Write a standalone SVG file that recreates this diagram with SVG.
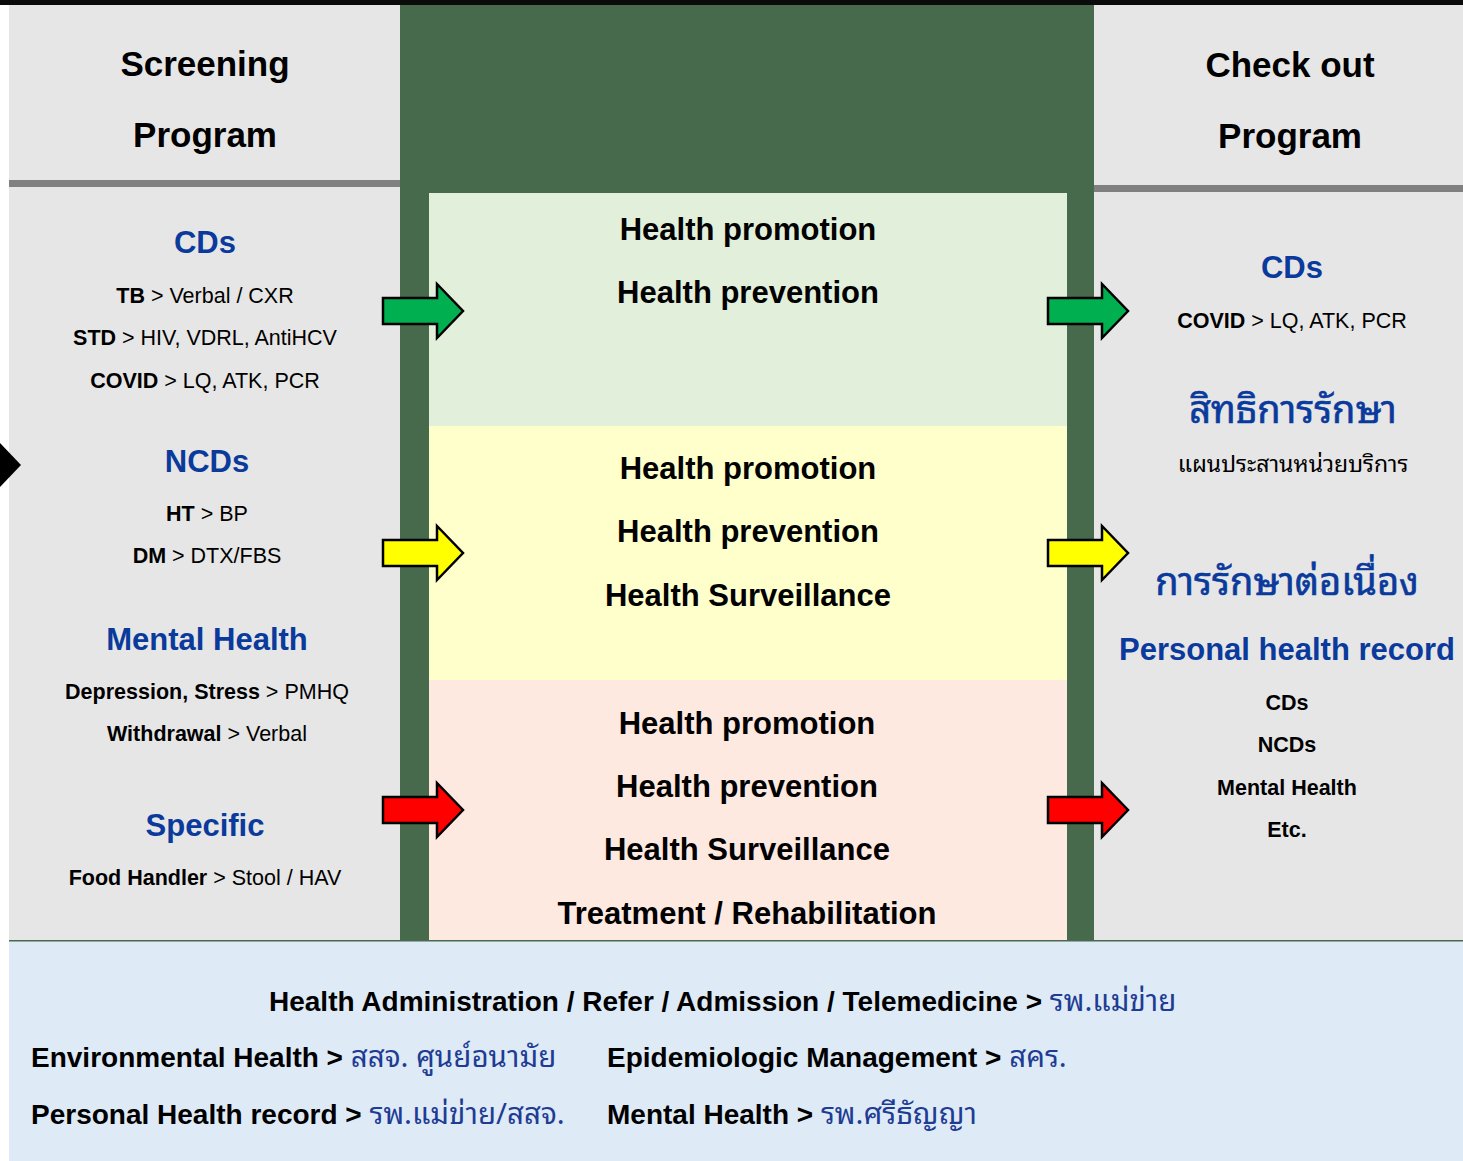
<svg xmlns="http://www.w3.org/2000/svg" width="1463" height="1161" viewBox="0 0 1463 1161">
<style>
text{font-family:"Liberation Sans",Arial,"Noto Sans Thai","Noto Sans",sans-serif;fill:#000}
.title{font-size:35px;font-weight:bold;text-anchor:middle}
.head{font-size:31px;font-weight:bold;fill:#0a3a9c;text-anchor:middle}
.small{font-size:21.5px;text-anchor:middle}
.b{font-weight:bold}
.mid{font-size:31px;font-weight:bold;text-anchor:middle}
.thai{font-family:"Noto Sans Thai Looped","Noto Sans Thai","Loma","Tahoma","Noto Sans",sans-serif}
.thaiHead{font-size:38px;fill:#0a3a9c;text-anchor:middle;font-weight:normal;stroke:#0a3a9c;stroke-width:0.6}
.bot{font-size:28px;font-weight:bold}
.botThai{font-weight:normal;fill:#1f3c93;font-size:29.5px}
.arrow{stroke:#000;stroke-width:2.5;stroke-linejoin:miter}
</style>
<defs>
<path id="arr" d="M0,14 H54 V0 L80,27 L54,54 V40 H0 Z"/>
</defs>
<rect x="0" y="0" width="1463" height="1161" fill="#ffffff"/>
<rect x="0" y="0" width="1463" height="5" fill="#0b0b0b"/>
<g id="screening-panel">
<rect x="9" y="5" width="391" height="936" fill="#e6e6e6"/>
<rect x="9" y="180" width="391" height="7" fill="#808080"/>
<text class="title" x="205" y="76">Screening</text>
<text class="title" x="205" y="147">Program</text>
<polygon points="0,443 21,465 0,487" fill="#000"/>
</g>
<g id="checkout-panel">
<rect x="1094" y="5" width="369" height="936" fill="#e6e6e6"/>
<rect x="1094" y="185" width="369" height="7" fill="#808080"/>
<text class="title" x="1290" y="77">Check out</text>
<text class="title" x="1290" y="148">Program</text>
</g>
<g id="center-column">
<rect x="400" y="5" width="694" height="936" fill="#466a4b"/>
</g>
<g id="box-green">
<rect x="429" y="193" width="638" height="233" fill="#e2efda"/>
<text class="mid" x="748" y="240">Health promotion</text>
<text class="mid" x="748" y="303">Health prevention</text>
</g>
<g id="box-yellow">
<rect x="429" y="426" width="638" height="254" fill="#ffffcc"/>
<text class="mid" x="748" y="479">Health promotion</text>
<text class="mid" x="748" y="542">Health prevention</text>
<text class="mid" x="748" y="606">Health Surveillance</text>
</g>
<g id="box-pink">
<rect x="429" y="680" width="638" height="261" fill="#fee9e0"/>
<text class="mid" x="747" y="734">Health promotion</text>
<text class="mid" x="747" y="797">Health prevention</text>
<text class="mid" x="747" y="860">Health Surveillance</text>
<text class="mid" x="747" y="924">Treatment / Rehabilitation</text>
</g>
<g id="screening-items">
<text class="head" x="205" y="253">CDs</text>
<text class="small" x="205" y="303"><tspan class="b">TB</tspan> &gt; Verbal / CXR</text>
<text class="small" x="205" y="345"><tspan class="b">STD</tspan> &gt; HIV, VDRL, AntiHCV</text>
<text class="small" x="205" y="388"><tspan class="b">COVID</tspan> &gt; LQ, ATK, PCR</text>
<text class="head" x="207" y="472">NCDs</text>
<text class="small" x="207" y="521"><tspan class="b">HT</tspan> &gt; BP</text>
<text class="small" x="207" y="563"><tspan class="b">DM</tspan> &gt; DTX/FBS</text>
<text class="head" x="207" y="650">Mental Health</text>
<text class="small" x="207" y="699"><tspan class="b">Depression, Stress</tspan> &gt; PMHQ</text>
<text class="small" x="207" y="741"><tspan class="b">Withdrawal</tspan> &gt; Verbal</text>
<text class="head" x="205" y="836">Specific</text>
<text class="small" x="205" y="885"><tspan class="b">Food Handler</tspan> &gt; Stool / HAV</text>
</g>
<g id="checkout-items">
<text class="head" x="1292" y="278">CDs</text>
<text class="small" x="1292" y="328"><tspan class="b">COVID</tspan> &gt; LQ, ATK, PCR</text>
<text class="thai thaiHead" x="1293" y="423">สิทธิการรักษา</text>
<text class="thai small" x="1293" y="472" style="font-size:23px">แผนประสานหน่วยบริการ</text>
<text class="thai thaiHead" x="1287" y="595">การรักษาต่อเนื่อง</text>
<text class="head" x="1287" y="660">Personal health record</text>
<text class="small b" x="1287" y="710">CDs</text>
<text class="small b" x="1287" y="752">NCDs</text>
<text class="small b" x="1287" y="795">Mental Health</text>
<text class="small b" x="1287" y="837">Etc.</text>
</g>
<g id="connectors">
<use href="#arr" x="383" y="284" fill="#00b050" class="arrow"/>
<use href="#arr" x="1048" y="284" fill="#00b050" class="arrow"/>
<use href="#arr" x="383" y="526" fill="#ffff00" class="arrow"/>
<use href="#arr" x="1048" y="526" fill="#ffff00" class="arrow"/>
<use href="#arr" x="383" y="783" fill="#ff0000" class="arrow"/>
<use href="#arr" x="1048" y="783" fill="#ff0000" class="arrow"/>
</g>
<g id="support-panel">
<rect x="9" y="941" width="1454" height="220" fill="#deebf7"/>
<rect x="9" y="940" width="1454" height="1.5" fill="#4a6a50"/>
<text class="bot" x="269" y="1011">Health Administration / Refer / Admission / Telemedicine &gt; <tspan class="thai botThai">รพ.แม่ข่าย</tspan></text>
<text class="bot" x="31" y="1067">Environmental Health &gt; <tspan class="thai botThai">สสจ. ศูนย์อนามัย</tspan></text>
<text class="bot" x="607" y="1067">Epidemiologic Management &gt; <tspan class="thai botThai">สคร.</tspan></text>
<text class="bot" x="31" y="1124">Personal Health record &gt; <tspan class="thai botThai">รพ.แม่ข่าย/สสจ.</tspan></text>
<text class="bot" x="607" y="1124">Mental Health &gt; <tspan class="thai botThai">รพ.ศรีธัญญา</tspan></text>
</g>
</svg>
